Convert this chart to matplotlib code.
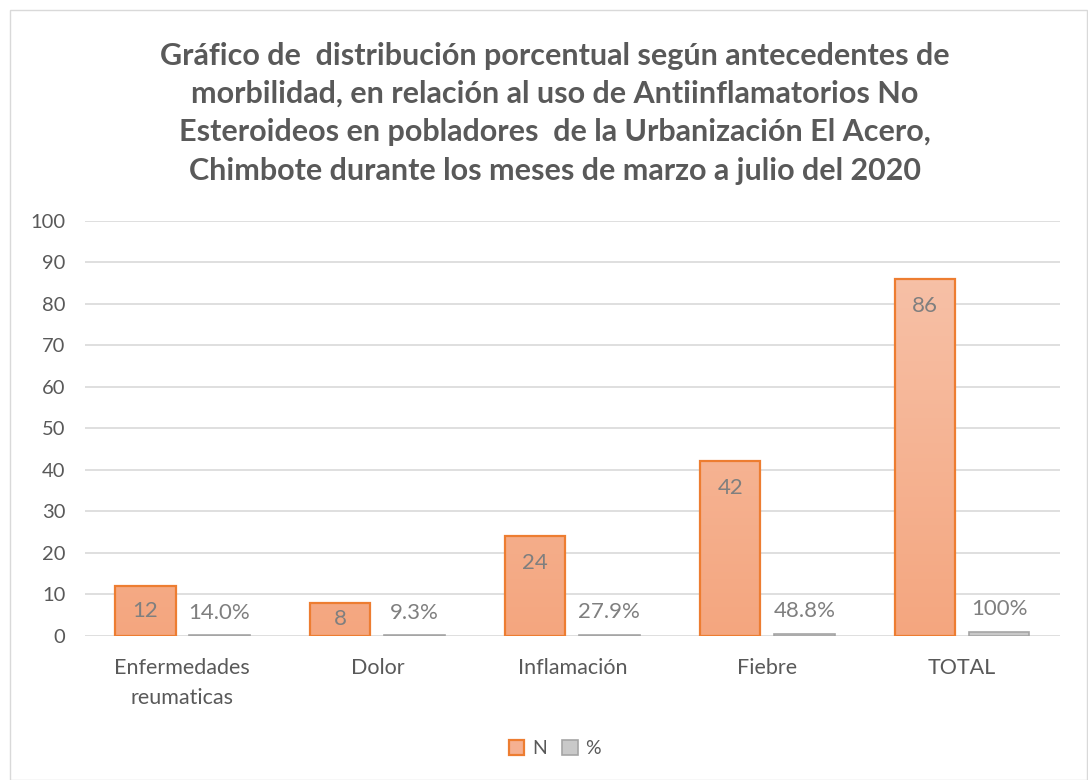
import numpy as np
import matplotlib
matplotlib.use("Agg")
import matplotlib.pyplot as plt
from matplotlib.patches import Rectangle
from matplotlib.colors import LinearSegmentedColormap

# --- Data -------------------------------------------------------------
CATEGORIES = ["Enfermedades\nreumaticas", "Dolor", "Inflamación", "Fiebre", "TOTAL"]
N_VALUES = [12, 8, 24, 42, 86]
PCT_VALUES = [0.140, 0.093, 0.279, 0.488, 1.0]
Y_TICKS = list(range(0, 101, 10))

TITLE = ("Gráfico de  distribución porcentual según antecedentes de\n"
         "morbilidad, en relación al uso de Antiinflamatorios No\n"
         "Esteroideos en pobladores  de la Urbanización El Acero,\n"
         "Chimbote durante los meses de marzo a julio del 2020")

TEXT_GREY = "#595959"
LABEL_GREY = "#7f7f7f"
ORANGE_EDGE = "#ED7D31"
GREY_EDGE = "#A5A5A5"

plt.rcParams["font.family"] = ["Lato", "DejaVu Sans"]

fig = plt.figure(figsize=(10.88, 7.8), dpi=100)
ax = fig.add_axes([0.078, 0.185, 0.896, 0.532])

x = np.arange(len(CATEGORIES))
width = 0.31
offset = 0.19

# orange bars with a soft vertical gradient (darker at the bottom)
grad = LinearSegmentedColormap.from_list("og", ["#F4A67F", "#F7C0A6"])
n_bars = ax.bar(x - offset, N_VALUES, width, color="none",
                edgecolor=ORANGE_EDGE, linewidth=1.6, zorder=3)
ramp = np.linspace(0, 1, 100).reshape(-1, 1)
for bar in n_bars:
    x0, w = bar.get_x(), bar.get_width()
    img = ax.imshow(ramp, cmap=grad, origin="lower", aspect="auto",
                    extent=[x0, x0 + w, 0, max(N_VALUES)], zorder=2)
    img.set_clip_path(bar)

pct_bars = ax.bar(x + offset, PCT_VALUES, width, color="#C9C9C9",
                  edgecolor=GREY_EDGE, linewidth=1.2, zorder=3)

# data labels
for xi, v in zip(x - offset, N_VALUES):
    ax.text(xi, max(v - 6.5, v / 2), str(v), ha="center", va="center",
            fontsize=16, color=LABEL_GREY, zorder=4)


def pct_label(v):
    return "100%" if v == 1 else f"{v * 100:.1f}%"


for xi, v in zip(x + offset, PCT_VALUES):
    ax.annotate(pct_label(v), (xi, v), xytext=(0, 16), textcoords="offset points",
                ha="center", va="center", fontsize=16, color=LABEL_GREY, zorder=4)

ax.set_xlim(-0.5, len(CATEGORIES) - 0.5)
ax.set_ylim(0, 100)
ax.set_yticks(Y_TICKS)
ax.set_xticks(x)
ax.set_xticklabels(CATEGORIES, linespacing=1.6)
ax.tick_params(length=0, colors=TEXT_GREY)
ax.tick_params(axis="y", labelsize=14.5, pad=14)
ax.tick_params(axis="x", labelsize=15.5, pad=16)
ax.yaxis.grid(True, color="#D9D9D9", linewidth=1.2, zorder=0)
ax.set_axisbelow(True)
for s in ax.spines.values():
    s.set_visible(False)

fig.text(0.51, 0.855, TITLE, ha="center", va="center", fontsize=22,
         fontweight="bold", color=TEXT_GREY, linespacing=1.45)

leg = fig.legend([n_bars, pct_bars], ["N", "%"], loc="center",
                 bbox_to_anchor=(0.51, 0.04), ncol=2, frameon=False,
                 fontsize=14, handlelength=0.8, handleheight=0.8,
                 handletextpad=0.4, columnspacing=0.8)
for t in leg.get_texts():
    t.set_color(TEXT_GREY)
leg.legend_handles[0].set_facecolor("#F5B091")

fig.patches.append(Rectangle((0.009, 0.0), 0.99, 0.987, transform=fig.transFigure,
                             fill=False, edgecolor="#D9D9D9", linewidth=1))

fig.savefig("out.png", dpi=100)
